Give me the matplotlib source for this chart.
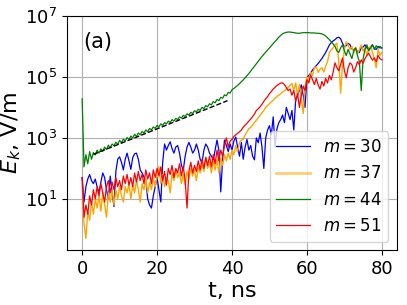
import numpy as np
import matplotlib
matplotlib.use('Agg')
import matplotlib.pyplot as plt
from matplotlib.ticker import NullLocator

# time grid, ns
t = np.arange(0, 80.5, 0.5)

# log10(E_k) for each mode, every 0.5 ns
lg30 = [1.70, 0.90, 1.40, 1.65, 1.80, 1.60, 1.50, 1.65, 1.40, 1.20,
        1.55, 1.85, 1.70, 1.30, 1.00, 1.75, 1.20, 0.75, 1.90, 2.30,
        2.38, 2.20, 1.95, 2.30, 2.50, 2.25, 1.97, 2.35, 2.48, 2.50,
        2.30, 1.95, 1.85, 1.72, 1.60, 1.00, 0.80, 0.70, 1.10, 1.40,
        1.70, 1.30, 0.90, 2.20, 2.80, 2.60, 2.75, 2.87, 2.65, 2.50,
        2.70, 2.75, 2.50, 2.10, 1.95, 2.40, 2.70, 2.85, 2.70, 2.50,
        2.60, 2.80, 2.60, 2.30, 2.18, 2.60, 2.80, 2.70, 2.50, 2.40,
        2.28, 2.60, 2.93, 2.60, 1.23, 2.30, 2.93, 2.75, 2.55, 2.80,
        2.60, 2.90, 3.03, 2.70, 2.40, 2.85, 2.30, 2.70, 2.95, 2.60,
        2.75, 2.40, 2.28, 3.00, 2.84, 3.16, 2.70, 2.00, 3.00, 3.26,
        3.40, 3.10, 3.69, 2.70, 3.30, 3.50, 3.60, 3.75, 3.50, 4.00,
        3.80, 3.60, 3.90, 3.26, 4.25, 4.40, 4.55, 4.74, 4.40, 4.00,
        4.97, 5.05, 5.12, 5.23, 5.30, 5.37, 5.44, 5.52, 5.60, 5.70,
        5.80, 5.92, 6.05, 6.12, 6.18, 6.22, 6.28, 6.30, 6.25, 6.10,
        5.98, 6.02, 6.10, 6.05, 5.92, 5.88, 5.95, 5.82, 5.80, 5.95,
        5.98, 6.05, 5.95, 5.90, 5.98, 6.05, 5.92, 5.90, 6.00, 5.95,
        5.95]

lg37 = [1.50, 0.20, -0.30, 0.60, 0.30, 0.90, 0.50, 1.00, 0.70, 1.10,
        0.60, 1.20, 0.80, 0.40, 1.20, 0.90, 1.30, 0.80, 1.30, 1.00,
        1.40, 1.10, 0.90, 1.40, 1.20, 1.50, 1.00, 1.45, 1.20, 1.60,
        1.30, 0.90, 1.50, 1.30, 1.65, 1.20, 1.55, 1.30, 1.70, 1.40,
        1.75, 2.05, 1.50, 1.80, 1.40, 1.70, 1.60, 1.20, 1.85, 1.60,
        1.95, 1.70, 1.85, 1.50, 1.80, 1.46, 1.90, 1.65, 2.00, 1.75,
        1.95, 1.60, 2.05, 1.85, 2.15, 1.90, 2.38, 2.00, 2.20, 1.85,
        2.25, 1.95, 2.30, 1.85, 2.35, 2.10, 2.45, 2.25, 2.50, 2.30,
        2.60, 2.45, 2.75, 2.55, 2.85, 2.93, 2.95, 3.10, 3.20, 3.30,
        3.35, 3.42, 3.50, 3.58, 3.66, 3.74, 3.82, 3.90, 4.00, 4.06,
        4.12, 4.18, 4.24, 4.30, 4.36, 4.40, 4.45, 4.50, 4.55, 4.60,
        4.66, 4.72, 4.78, 4.55, 4.80, 4.40, 4.75, 4.30, 3.80, 4.70,
        5.00, 4.85, 5.16, 5.05, 5.30, 5.33, 5.15, 5.25, 5.30, 5.16,
        5.35, 5.50, 5.80, 5.89, 5.95, 6.05, 6.10, 5.50, 4.47, 5.40,
        5.90, 6.15, 6.05, 5.90, 6.00, 5.80, 5.95, 5.75, 5.90, 6.05,
        5.85, 5.95, 5.70, 5.95, 6.00, 5.80, 5.60, 5.30, 5.90, 5.70,
        5.80]

lg44 = [4.28, 2.05, 2.45, 2.15, 2.55, 2.30, 2.52, 2.44, 2.60, 2.50,
        2.64, 2.56, 2.70, 2.62, 2.76, 2.68, 2.80, 2.74, 2.86, 2.79,
        2.92, 2.84, 2.96, 2.90, 3.01, 2.95, 3.06, 3.00, 3.12, 3.05,
        3.16, 3.10, 3.21, 3.16, 3.26, 3.20, 3.31, 3.26, 3.36, 3.31,
        3.41, 3.36, 3.46, 3.41, 3.50, 3.46, 3.55, 3.50, 3.60, 3.55,
        3.64, 3.60, 3.69, 3.65, 3.74, 3.70, 3.79, 3.75, 3.84, 3.80,
        3.89, 3.85, 3.94, 3.90, 4.00, 3.96, 4.06, 4.02, 4.12, 4.08,
        4.19, 4.15, 4.26, 4.22, 4.33, 4.30, 4.41, 4.38, 4.49, 4.47,
        4.58, 4.62, 4.67, 4.72, 4.78, 4.84, 4.90, 4.97, 5.04, 5.11,
        5.19, 5.27, 5.35, 5.43, 5.51, 5.59, 5.67, 5.74, 5.81, 5.88,
        5.95, 6.02, 6.09, 6.16, 6.23, 6.30, 6.36, 6.41, 6.44, 6.46,
        6.47, 6.47, 6.46, 6.45, 6.44, 6.43, 6.43, 6.44, 6.45, 6.45,
        6.45, 6.45, 6.44, 6.44, 6.44, 6.43, 6.43, 6.42, 6.41, 6.38,
        6.34, 6.28, 6.22, 6.15, 6.08, 6.00, 5.85, 5.80, 5.95, 6.05,
        5.85, 5.70, 5.90, 5.75, 5.60, 5.85, 5.95, 5.70, 5.50, 4.55,
        5.60, 5.90, 6.05, 5.85, 5.95, 6.05, 5.90, 6.02, 5.95, 6.00,
        5.95]

lg51 = [1.70, 0.40, 0.80, 0.50, 1.10, 0.80, 1.30, 1.00, 1.40, 1.10,
        1.50, 1.20, 0.90, 1.40, 1.60, 1.20, 1.55, 1.30, 1.70, 1.40,
        1.60, 1.30, 1.75, 1.50, 1.80, 1.45, 1.70, 1.40, 1.85, 1.55,
        1.90, 1.60, 1.80, 1.50, 1.95, 1.65, 1.85, 1.50, 1.95, 1.70,
        2.00, 1.75, 2.05, 1.60, 1.90, 1.45, 2.00, 1.80, 2.10, 1.70,
        2.00, 1.85, 2.15, 1.75, 2.05, 1.60, 0.70, 1.90, 2.20, 1.85,
        2.10, 1.90, 2.25, 1.95, 2.30, 2.00, 2.35, 2.10, 2.40, 2.05,
        2.45, 2.15, 2.60, 2.25, 2.60, 2.40, 2.75, 3.00, 2.70, 2.90,
        2.95, 3.05, 3.10, 3.15, 3.20, 3.26, 3.35, 3.42, 3.48, 3.55,
        3.62, 3.70, 3.78, 3.90, 3.95, 4.02, 4.10, 4.20, 4.28, 4.35,
        4.45, 4.52, 4.60, 4.66, 4.72, 4.76, 4.80, 4.80, 4.75, 4.65,
        4.55, 4.60, 4.40, 4.55, 4.20, 4.45, 4.00, 4.40, 4.70, 4.55,
        4.90, 4.80, 5.06, 4.90, 4.75, 4.95, 4.74, 4.60, 4.85, 4.70,
        4.95, 4.80, 5.05, 4.90, 5.16, 5.46, 5.30, 5.20, 5.40, 5.62,
        5.20, 4.97, 5.30, 5.46, 5.40, 5.16, 5.30, 5.50, 5.40, 5.56,
        5.45, 5.60, 5.70, 5.78, 5.65, 5.55, 5.62, 5.50, 5.70, 5.60,
        5.56]

# fitted exponential growth for m=44 (dashed)
t_fit = [3.0, 38.8]
lg_fit = [2.46, 4.22]

labels = ['$m = 30$', '$m = 37$', '$m = 44$', '$m = 51$']

fig = plt.figure(figsize=(4.07, 3.05), dpi=100)
ax = fig.add_axes([0.165, 0.18, 0.81, 0.768])

ax.plot(t, 10**np.array(lg30), color='blue', lw=0.9, label=labels[0])
ax.plot(t, 10**np.array(lg37), color='orange', lw=1.0, label=labels[1])
ax.plot(t, 10**np.array(lg44), color='green', lw=0.9, label=labels[2])
ax.plot(t, 10**np.array(lg51), color='red', lw=0.9, label=labels[3])
ax.plot(t_fit, 10**np.array(lg_fit), 'k--', lw=1.0)

ax.set_yscale('log')
ax.set_ylim(0.21, 1e7)
ax.set_xlim(-4, 84)
ax.set_xticks([0, 20, 40, 60, 80])
ax.set_yticks([1e1, 1e3, 1e5, 1e7])
ax.yaxis.set_minor_locator(NullLocator())
ax.tick_params(labelsize=13)
ax.grid(True)
ax.set_xlabel('t, ns', fontsize=16, labelpad=2)
ax.set_ylabel('$E_k$, V/m', fontsize=16, labelpad=2)
ax.text(0.05, 0.89, '(a)', transform=ax.transAxes, fontsize=15, va='center')
leg = ax.legend(loc='lower right', fontsize=12, handlelength=2.0)
leg.get_lines()[1].set_linewidth(2.0)
leg.get_lines()[1].set_alpha(0.55)

fig.savefig('out.png', dpi=100)
